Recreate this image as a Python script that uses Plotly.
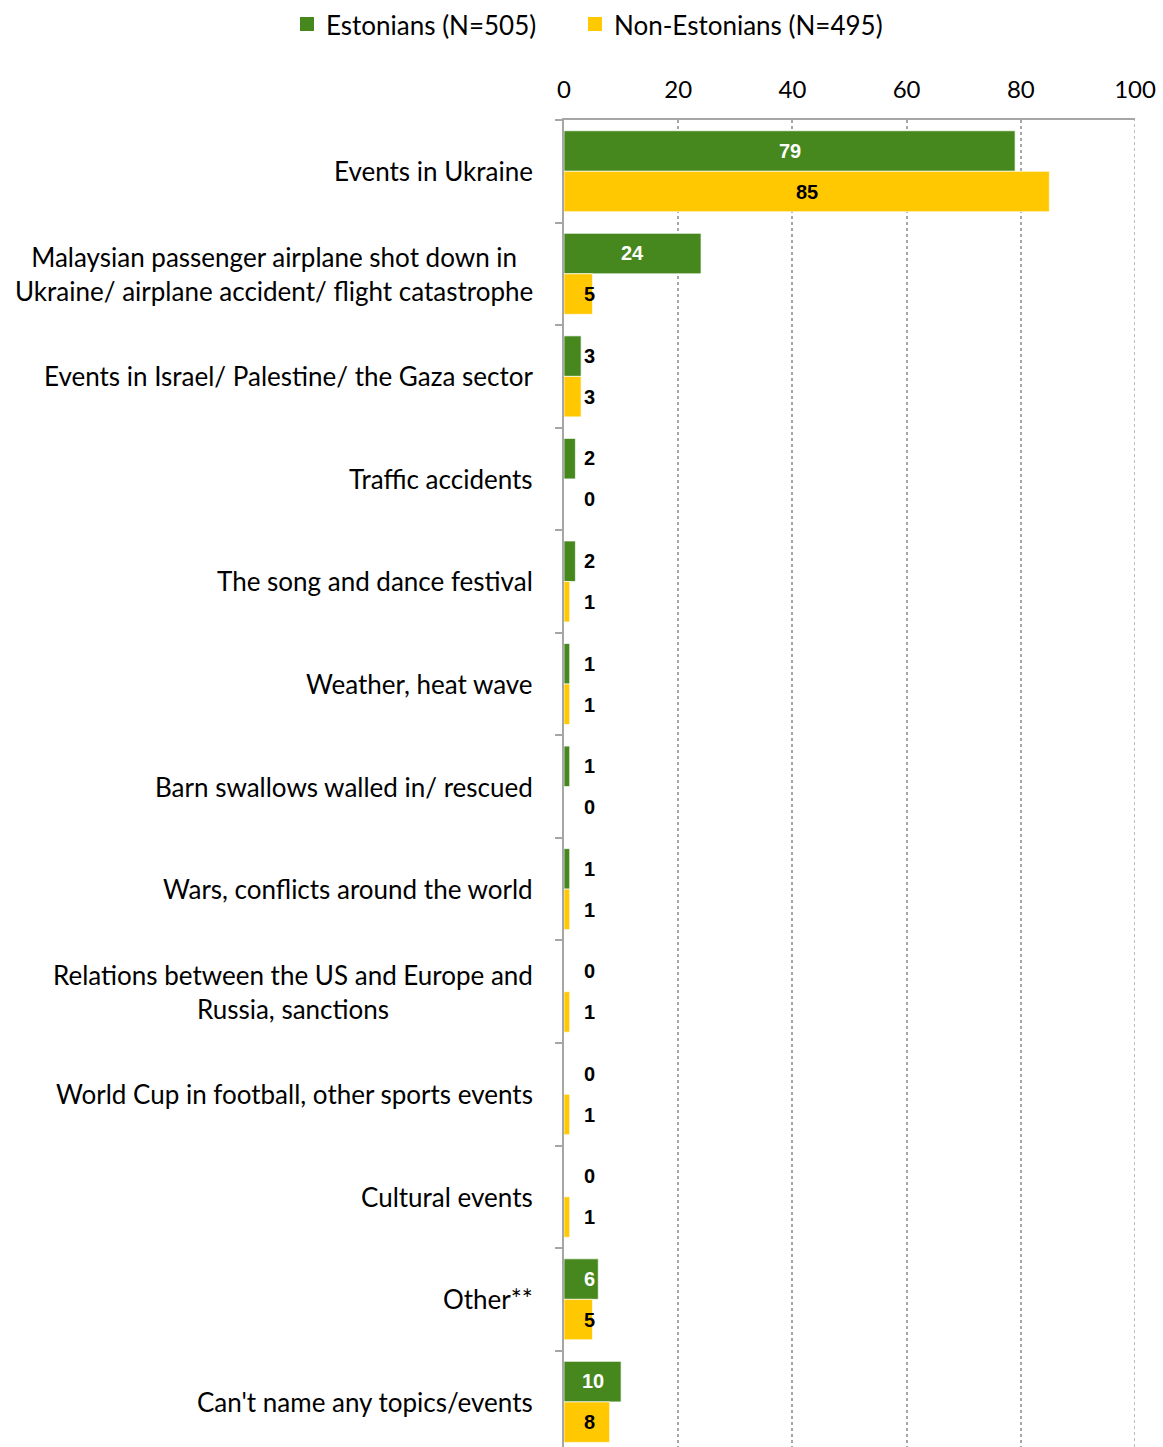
import plotly.graph_objects as go

# Topics people remembered, share of respondents (%)
categories = [
    "Events in Ukraine",
    "Malaysian passenger airplane shot down in<br>Ukraine/ airplane accident/ flight catastrophe",
    "Events in Israel/ Palestine/ the Gaza sector",
    "Traffic accidents",
    "The song and dance festival",
    "Weather, heat wave",
    "Barn swallows walled in/ rescued",
    "Wars, conflicts around the world",
    "Relations between the US and Europe and<br>Russia, sanctions",
    "World Cup in football, other sports events",
    "Cultural events",
    "Other**",
    "Can't name any topics/events",
]
estonians = [79, 24, 3, 2, 2, 1, 1, 1, 0, 0, 0, 6, 10]
non_estonians = [85, 5, 3, 0, 1, 1, 0, 1, 1, 1, 1, 5, 8]

series_names = ["Estonians (N=505)", "Non-Estonians (N=495)"]
x_ticks = [0, 20, 40, 60, 80, 100]

GREEN = "#46871e"
YELLOW = "#ffc800"
GRID = "#a6a6a6"
LABEL_FONT = "Lato, 'Open Sans', sans-serif"

W, H = 1163, 1447
ML, MR, MT, MB = 564, 28, 120, 0
PW, PH = W - ML - MR, H - MT - MB


def px_to_paper(px, py):
    return (px - ML) / PW, 1 - (py - MT) / PH


ids = list(range(len(categories)))

fig = go.Figure()
for name, vals, col in [(series_names[0], estonians, GREEN),
                        (series_names[1], non_estonians, YELLOW)]:
    fig.add_trace(go.Bar(
        y=ids, x=vals, orientation="h", name=name,
        marker=dict(color=col, line=dict(color="rgba(255,255,255,0.7)", width=1)),
        hoverinfo="skip", showlegend=False,
    ))

annotations = []
shapes = [dict(type="line", xref="x", yref="paper", x0=100, x1=100, y0=0, y1=1,
               line=dict(color=GRID, width=1.5, dash="dot"), layer="below")]

# value labels: centred in long bars, parked just right of the axis for short ones
for vals, shift, is_green in [(estonians, 20.5, True), (non_estonians, -20.5, False)]:
    for i, v in zip(ids, vals):
        colr = "white" if (is_green and v >= 6) else "black"
        annotations.append(dict(
            x=max(v / 2, 4.4), y=i, xref="x", yref="y", yshift=shift,
            text=str(v), showarrow=False, xanchor="center", yanchor="middle",
            font=dict(family="'Liberation Sans', Arial, sans-serif", size=20,
                      color=colr, weight="bold"),
        ))

# category labels, centred multi-line text right-aligned to the axis
for i, c in zip(ids, categories):
    annotations.append(dict(
        x=0, y=i, xref="x", yref="y", xshift=-29, text=c, showarrow=False,
        xanchor="right", yanchor="middle", align="center",
        font=dict(family=LABEL_FONT, size=26, color="black"),
    ))

# legend: square swatch followed by series name
for name, col, sx in [(series_names[0], GREEN, 300), (series_names[1], YELLOW, 588)]:
    x0, y0 = px_to_paper(sx, 17)
    x1, y1 = px_to_paper(sx + 14, 31)
    shapes.append(dict(type="rect", xref="paper", yref="paper",
                       x0=x0, x1=x1, y0=y1, y1=y0, fillcolor=col, line_width=0))
    tx, ty = px_to_paper(sx + 24, 25)
    annotations.append(dict(x=tx, y=ty, xref="paper", yref="paper", text=name,
                            showarrow=False, xanchor="left", yanchor="middle",
                            font=dict(family=LABEL_FONT, size=26, color="black")))

fig.update_layout(
    width=W, height=H,
    margin=dict(l=ML, r=MR, t=MT, b=MB),
    paper_bgcolor="white", plot_bgcolor="white",
    barmode="group", bargap=0.21, bargroupgap=0,
    showlegend=False,
    annotations=annotations,
    shapes=shapes,
    xaxis=dict(side="top", range=[0, 100], tickvals=x_ticks,
               ticktext=[str(t) for t in x_ticks],
               tickfont=dict(family=LABEL_FONT, size=24, color="black"),
               showgrid=True, gridcolor=GRID, griddash="dot", gridwidth=1.5,
               showline=True, linecolor=GRID, linewidth=2,
               zeroline=False, ticks="", ticklabelstandoff=10),
    yaxis=dict(range=[12.44, -0.5], type="linear", showticklabels=False,
               tickvals=[i - 0.5 for i in range(len(categories) + 1)],
               ticks="outside", ticklen=7, tickwidth=2, tickcolor=GRID,
               showgrid=False, showline=True, linecolor=GRID, linewidth=2,
               zeroline=False),
)

fig.write_html("out.html")
